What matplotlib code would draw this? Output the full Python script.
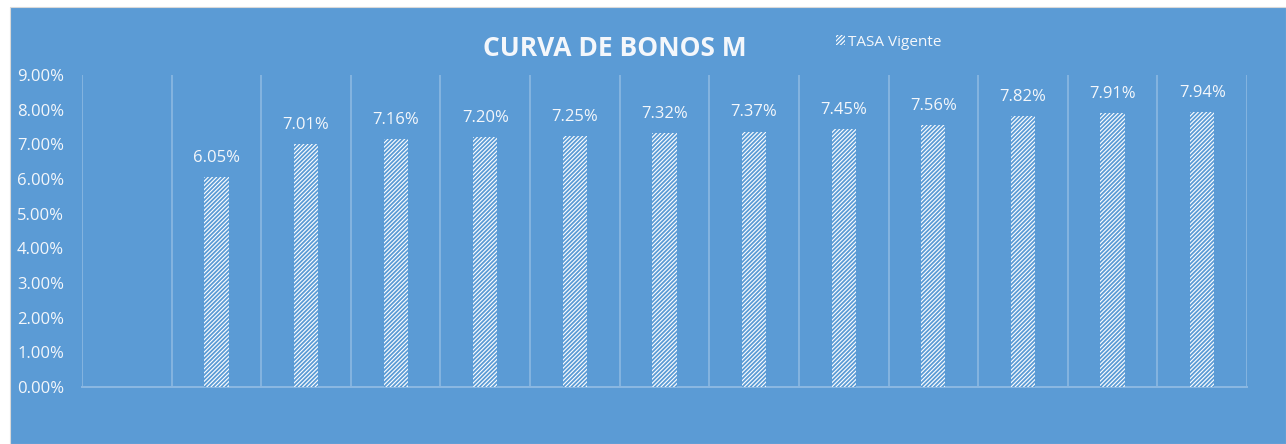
import numpy as np
import matplotlib.pyplot as plt
from matplotlib.patches import Rectangle

# data
categorias = ['', '', '', '', '', '', '', '', '', '', '', '', '']
tasa = [np.nan, 6.05, 7.01, 7.16, 7.20, 7.25, 7.32, 7.37, 7.45, 7.56, 7.82, 7.91, 7.94]
yticks = [0, 1, 2, 3, 4, 5, 6, 7, 8, 9]

azul = '#5B9BD5'
grid_c = '#8CB8E2'
txt = '#F4F7FB'

plt.rcParams['font.family'] = ['Open Sans', 'DejaVu Sans']
plt.rcParams['hatch.linewidth'] = 1.3

fig = plt.figure(figsize=(12.86, 4.44), dpi=100)
fig.patch.set_facecolor('white')
fig.add_artist(Rectangle((10/1286, 0), 1 - 10/1286, (444-7)/444,
                         transform=fig.transFigure, facecolor=azul,
                         edgecolor='#D9D9D9', lw=0.8, zorder=-10))

ax = fig.add_axes([82/1286, 57/444, 1165/1286, 312/444])
ax.set_facecolor('none')

x = np.arange(len(categorias))
bars = ax.bar(x, tasa, width=0.27, color='white', edgecolor=azul,
              linewidth=0, hatch='////////', zorder=3, label='TASA Vigente')

for xi, v in zip(x, tasa):
    if np.isnan(v):
        continue
    ax.annotate(f'{v:.2f}%', (xi, v), xytext=(0, 8), textcoords='offset points',
                ha='center', va='bottom', color=txt, fontsize=12)

ax.set_xlim(-0.5, len(categorias) - 0.5)
ax.set_ylim(0, 9)
ax.set_yticks(yticks)
ax.set_yticklabels([f'{t:.2f}%' for t in yticks], color=txt, fontsize=12)
ax.set_xticks(x)
ax.set_xticklabels(categorias)
ax.set_xticks(np.arange(-0.5, len(categorias)), minor=True)
ax.tick_params(axis='both', which='both', length=0)
ax.tick_params(axis='y', pad=13)
ax.grid(axis='x', which='minor', color=grid_c, lw=1.2, zorder=1)
for s in ['top', 'right', 'left']:
    ax.spines[s].set_visible(False)
ax.spines['bottom'].set_color(grid_c)
ax.spines['bottom'].set_linewidth(1.4)

fig.text(615/1286, 1 - 48/444, 'CURVA DE BONOS M', ha='center', va='center',
         color=txt, fontsize=19, fontweight='bold')

leg = fig.legend(handles=[bars], loc='center left',
                 bbox_to_anchor=(822/1286, 1 - 42/444), frameon=False,
                 fontsize=11, handlelength=0.6, handleheight=0.6,
                 handletextpad=0.2, labelcolor=txt)

fig.savefig('out.png', dpi=100, facecolor=fig.get_facecolor())
